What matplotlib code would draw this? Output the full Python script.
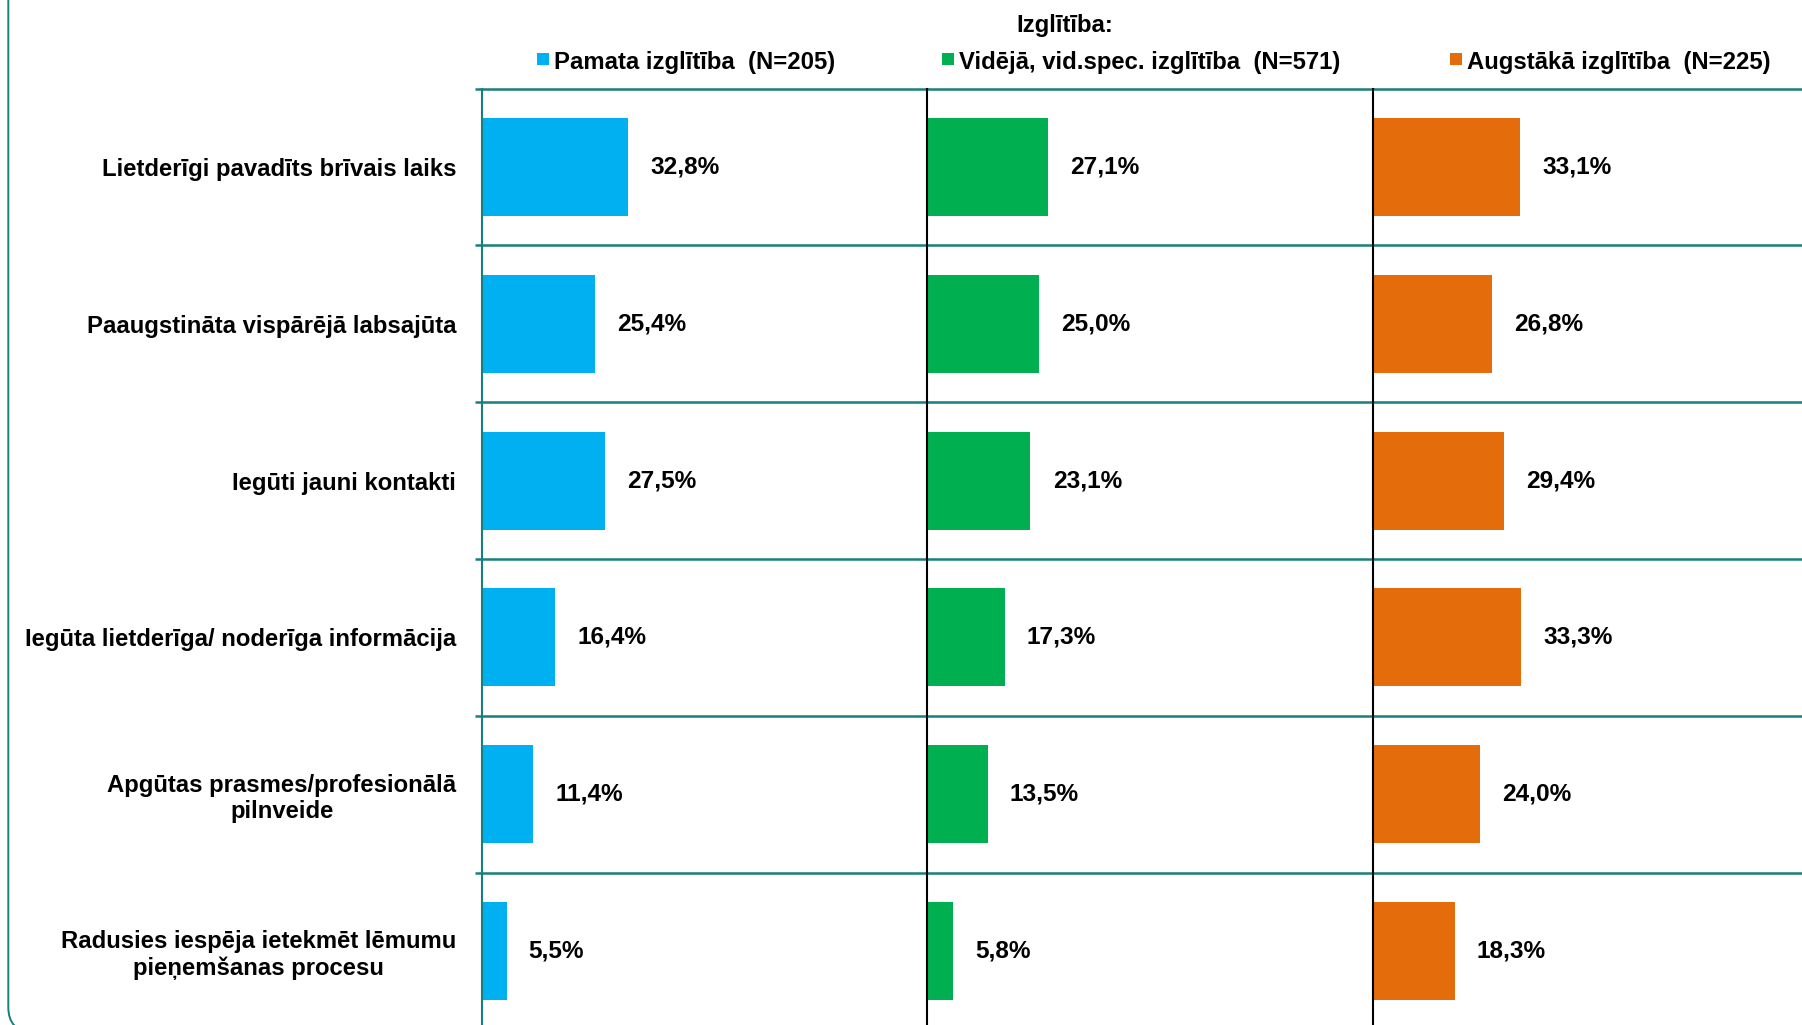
import numpy as np
import matplotlib
matplotlib.use("Agg")
from matplotlib import pyplot as plt
from matplotlib.patches import FancyBboxPatch, Rectangle

plt.rcParams['font.family'] = ['Liberation Sans', 'DejaVu Sans']
plt.rcParams['font.weight'] = 'bold'

categories = [
    "Lietderīgi pavadīts brīvais laiks",
    "Paaugstināta vispārējā labsajūta",
    "Iegūti jauni kontakti",
    "Iegūta lietderīga/ noderīga informācija",
    "Apgūtas prasmes/profesionālā\npilnveide",
    "Radusies iespēja ietekmēt lēmumu\npieņemšanas procesu",
]
series_names = [
    "Pamata izglītība  (N=205)",
    "Vidējā, vid.spec. izglītība  (N=571)",
    "Augstākā izglītība  (N=225)",
]
pamata = [32.8, 25.4, 27.5, 16.4, 11.4, 5.5]
videja = [27.1, 25.0, 23.1, 17.3, 13.5, 5.8]
augstaka = [33.1, 26.8, 29.4, 33.3, 24.0, 18.3]
legend_title = "Izglītība:"

colors = ["#00B0F0", "#00B050", "#E46C0A"]
teal = "#17807E"

W, H = 1802, 1025
fig = plt.figure(figsize=(W / 100, H / 100), dpi=100)

# rounded frame, only the left side and the bottom-left corner show
frame = FancyBboxPatch((0.083, -0.07), 20, 12,
                       boxstyle="round,pad=0,rounding_size=0.25",
                       transform=fig.dpi_scale_trans, facecolor="none",
                       edgecolor=teal, linewidth=1.4)
fig.patches.append(frame)

# panel geometry in pixels
x_left = 482
panel_w = 445.5
top_px = 88.5
row_h = 156.8
n = len(categories)
bottom_px = top_px + n * row_h

data = [pamata, videja, augstaka]
y = np.arange(n) + 0.5
fs = 17.2

for i, vals in enumerate(data):
    ax = fig.add_axes([(x_left + i * panel_w) / W, 1 - bottom_px / H,
                       panel_w / W, (bottom_px - top_px) / H])
    ax.set_xlim(0, 100)
    ax.set_ylim(n, 0)
    ax.barh(y, vals, height=0.625, color=colors[i])
    for yy, v in zip(y, vals):
        ax.annotate(f"{v:.1f}".replace(".", ",") + "%", xy=(v, yy),
                    xytext=(16, 0), textcoords="offset points",
                    ha="left", va="center", fontsize=17.6,
                    fontweight="bold")
    for k in range(n + 1):
        ax.axhline(k, color=teal, linewidth=1.8, clip_on=False)
    for s in ["top", "right", "bottom"]:
        ax.spines[s].set_visible(False)
    ax.spines["left"].set_color(teal if i == 0 else "black")
    ax.spines["left"].set_linewidth(1.5)
    ax.set_xticks([])
    if i == 0:
        ax.set_yticks(np.arange(n + 1))
        ax.set_yticklabels([])
        ax.tick_params(axis="y", length=5, width=1.8, color=teal)
        ax.set_yticks(y, minor=True)
        ax.set_yticklabels(categories, minor=True, fontsize=fs,
                           fontweight="bold", multialignment="center")
        ax.tick_params(axis="y", which="minor", length=0, pad=18.5)
    else:
        ax.set_yticks([])

# legend
fig.text(1065 / W, 1 - 25.5 / H, legend_title, ha="center", va="center",
         fontsize=fs, fontweight="bold")
marker_x = [543, 948, 1456]
for mx, c, name in zip(marker_x, colors, series_names):
    fig.patches.append(Rectangle(((mx - 6) / W, 1 - 65 / H), 12 / W, 12 / H,
                                 transform=fig.transFigure, facecolor=c,
                                 edgecolor="none"))
    fig.text((mx + 11) / W, 1 - 63 / H, name, ha="left", va="center",
             fontsize=fs, fontweight="bold")

plt.savefig("out.png", dpi=100)
